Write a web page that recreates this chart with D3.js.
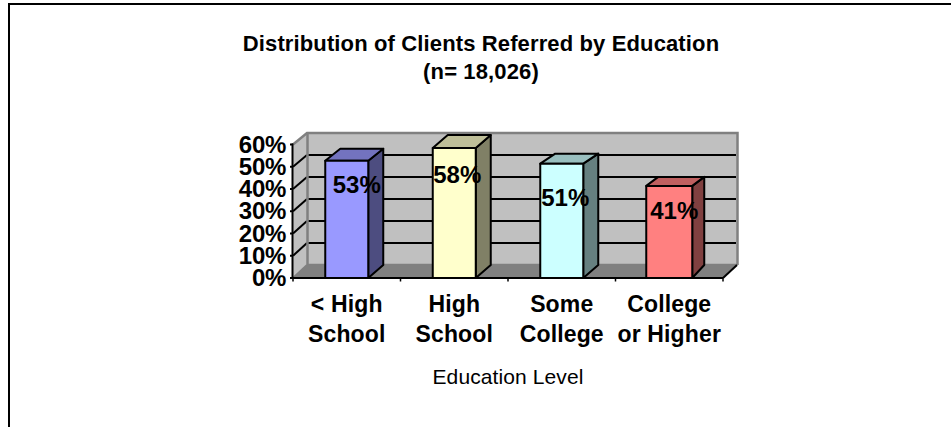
<!DOCTYPE html>
<html><head><meta charset="utf-8">
<script src="https://cdn.jsdelivr.net/npm/d3@7"></script>
<style>html,body{margin:0;padding:0;background:#fff}svg{display:block}text{font-family:"Liberation Sans",Arial,sans-serif;fill:#000}</style>
</head><body><svg id="c" width="951" height="427"></svg>
<script>
const categories = [["< High","School"],["High","School"],["Some","College"],["College","or Higher"]];
const values = [52.7,58.4,51.4,41.4];
const fronts = ["#9999ff","#ffffcc","#ccffff","#ff8080"];
const tops = ["#7373bf","#bfbf99","#99bfbf","#bf6060"];
const sides = ["#4d4d80","#808066","#668080","#804040"];
const yTicks = [0,10,20,30,40,50,60];
const titleLines = ["Distribution of Clients Referred by Education","(n= 18,026)"];
const xTitle = "Education Level";

const svg = d3.select("#c");
const x = d3.scaleBand().domain(d3.range(4)).range([293,723]);
const y = d3.scaleLinear().domain([0,60]).range([278,144.5]);
const wy = d3.scaleLinear().domain([0,60]).range([265,133]);
const barW = [43,43,43,46];
const barDx = [15,15,15,12];
const barDy = [12,13,10,9];
const lblDx = [10,3,3.5,5];
const lblBase = [193,183,206,219];
const poly = pts => pts.map(p=>p.join(",")).join(" ");

svg.append("path").attr("d","M9,427V4H951").attr("fill","none").attr("stroke","#000").attr("stroke-width",2);

// walls and floor
svg.append("polygon").attr("points",poly([[307,wy(0)],[737,wy(0)],[737,wy(60)],[307,wy(60)]])).attr("fill","#c0c0c0");
svg.append("polygon").attr("points",poly([[293,y(0)],[307,wy(0)],[307,wy(60)],[293,y(60)]])).attr("fill","#c0c0c0");
svg.append("polygon").attr("points",poly([[293,y(0)],[723,y(0)],[737,wy(0)],[307,wy(0)]])).attr("fill","#808080");
const inner = yTicks.filter(t=>t>0&&t<60);
inner.forEach(t=>{
  svg.append("line").attr("x1",308).attr("x2",736).attr("y1",wy(t)).attr("y2",wy(t)).attr("stroke","#000").attr("stroke-width",2);
  svg.append("line").attr("x1",293).attr("x2",307).attr("y1",y(t)).attr("y2",wy(t)).attr("stroke","#000").attr("stroke-width",2);
});
svg.append("path").attr("d",`M293,${y(60)}L307,${wy(60)}H737.5V${wy(0)}`).attr("fill","none").attr("stroke","#808080").attr("stroke-width",2.5);
svg.append("path").attr("d",`M307.5,${wy(60)}V${wy(0)}H737`).attr("fill","none").attr("stroke","#808080").attr("stroke-width",2.5);
svg.append("path").attr("d",`M293,${y(0)}L307,${wy(0)}`).attr("stroke","#808080").attr("stroke-width",2);
svg.append("path").attr("d",`M723,${y(0)}L737,${wy(0)}`).attr("stroke","#000").attr("stroke-width",2);

// axes
svg.append("line").attr("x1",292.5).attr("x2",292.5).attr("y1",y(0)).attr("y2",y(60)-1).attr("stroke","#000").attr("stroke-width",2);
svg.append("line").attr("x1",290).attr("x2",723).attr("y1",y(0)).attr("y2",y(0)).attr("stroke","#000").attr("stroke-width",2);
d3.range(5).forEach(i=>{
  const px = 293 + i*x.bandwidth();
  svg.append("line").attr("x1",px).attr("x2",px).attr("y1",y(0)).attr("y2",y(0)+3.5).attr("stroke","#000").attr("stroke-width",1.5);
});
yTicks.forEach(t=>{
  svg.append("line").attr("x1",290).attr("x2",293).attr("y1",y(t)).attr("y2",y(t)).attr("stroke","#000").attr("stroke-width",2);
  svg.append("text").attr("x",286).attr("y",y(t)+8).attr("text-anchor","end")
    .attr("font-size",24).attr("font-weight","bold").attr("letter-spacing",-0.3).text(t+"%");
});

// bars
values.forEach((v,i)=>{
  const cx = x(i)+x.bandwidth()/2, x0 = cx-barW[i]/2, x1=x0+barW[i], yt=y(v), yb=y(0), dx=barDx[i], dy=barDy[i];
  const g = svg.append("g").attr("stroke","#000").attr("stroke-width",2).attr("stroke-linejoin","round");
  g.append("polygon").attr("points",poly([[x1,yt],[x1+dx,yt-dy],[x1+dx,yb-13],[x1,yb]])).attr("fill",sides[i]);
  g.append("polygon").attr("points",poly([[x0,yt],[x0+dx,yt-dy],[x1+dx,yt-dy],[x1,yt]])).attr("fill",tops[i]);
  g.append("rect").attr("x",x0).attr("y",yt).attr("width",barW[i]).attr("height",yb-yt).attr("fill",fronts[i]);
  svg.append("text").attr("x",cx+lblDx[i]).attr("y",lblBase[i]).attr("text-anchor","middle")
    .attr("font-size",24).attr("font-weight","bold").text(Math.round(v)+"%");
});

categories.forEach((ls,i)=>{
  const cx = x(i)+x.bandwidth()/2;
  ls.forEach((l,j)=>svg.append("text").attr("x",cx).attr("y",312+j*30).attr("text-anchor","middle")
    .attr("font-size",23).attr("letter-spacing",0.15).attr("font-weight","bold").text(l));
});
svg.append("text").attr("x",508).attr("y",384).attr("text-anchor","middle").attr("font-size",21).attr("letter-spacing",0.1).text(xTitle);
titleLines.forEach((l,j)=>svg.append("text").attr("x",481).attr("y",j?79:51).attr("text-anchor","middle")
  .attr("font-size",22).attr("letter-spacing",0.13).attr("font-weight","bold").text(l));
</script></body></html>
